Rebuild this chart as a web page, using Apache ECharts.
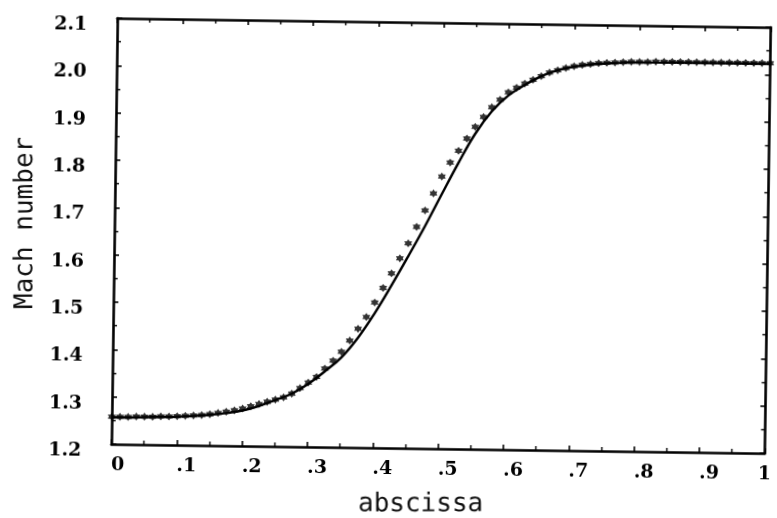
<!DOCTYPE html>
<html>
<head>
<meta charset="utf-8">
<script src="https://cdn.jsdelivr.net/npm/echarts@6/dist/echarts.min.js"></script>
<style>
  html, body { margin: 0; padding: 0; background: #fff; overflow: hidden; }
  /* the plotted sheet sits slightly skewed on the page */
  #chart { width: 777px; height: 518px; transform: rotate(0.8deg); transform-origin: 50% 50%; }
</style>
</head>
<body>
<div id="chart"></div>
<script>
// Tick labels
const xTickLabels = ['0', '.1', '.2', '.3', '.4', '.5', '.6', '.7', '.8', '.9', '1'];
const yTickLabels = ['1.2', '1.3', '1.4', '1.5', '1.6', '1.7', '1.8', '1.9', '2.0', '2.1'];

// Solid curve: Mach number along the abscissa
const lineX = [0, 0.025, 0.05, 0.075, 0.1, 0.125, 0.15, 0.175, 0.2, 0.225,
  0.25, 0.275, 0.3, 0.325, 0.35, 0.375, 0.4, 0.425, 0.45, 0.475,
  0.5, 0.525, 0.55, 0.575, 0.6, 0.625, 0.65, 0.675, 0.7, 0.725,
  0.75, 0.775, 0.8, 0.825, 0.85, 0.875, 0.9, 0.925, 0.95, 0.975, 1];
const lineY = [1.257, 1.257, 1.258, 1.259, 1.260, 1.262, 1.265, 1.269, 1.275, 1.285,
  1.298, 1.312, 1.333, 1.360, 1.390, 1.432, 1.484, 1.543, 1.605, 1.669,
  1.737, 1.804, 1.866, 1.914, 1.948, 1.971, 1.990, 2.003, 2.011, 2.016,
  2.019, 2.021, 2.022, 2.022, 2.023, 2.023, 2.023, 2.023, 2.023, 2.023, 2.023];

// Star markers: second solution sampled on a finer grid
const starX = [0, 0.0125, 0.025, 0.0375, 0.05, 0.0625, 0.075, 0.0875, 0.1, 0.1125,
  0.125, 0.1375, 0.15, 0.1625, 0.175, 0.1875, 0.2, 0.2125, 0.225, 0.2375,
  0.25, 0.2625, 0.275, 0.2875, 0.3, 0.3125, 0.325, 0.3375, 0.35, 0.3625,
  0.375, 0.3875, 0.4, 0.4125, 0.425, 0.4375, 0.45, 0.4625, 0.475, 0.4875,
  0.5, 0.5125, 0.525, 0.5375, 0.55, 0.5625, 0.575, 0.5875, 0.6, 0.6125,
  0.625, 0.6375, 0.65, 0.6625, 0.675, 0.6875, 0.7, 0.7125, 0.725, 0.7375,
  0.75, 0.7625, 0.775, 0.7875, 0.8, 0.8125, 0.825, 0.8375, 0.85, 0.8625,
  0.875, 0.8875, 0.9, 0.9125, 0.925, 0.9375, 0.95, 0.9625, 0.975, 0.9875, 1];
const starY = [1.258, 1.258, 1.258, 1.259, 1.259, 1.259, 1.260, 1.260, 1.261, 1.262,
  1.263, 1.264, 1.266, 1.269, 1.272, 1.275, 1.279, 1.284, 1.289, 1.294,
  1.299, 1.304, 1.312, 1.324, 1.336, 1.348, 1.366, 1.383, 1.402, 1.426,
  1.451, 1.476, 1.507, 1.538, 1.569, 1.601, 1.633, 1.668, 1.703, 1.739,
  1.775, 1.805, 1.830, 1.856, 1.881, 1.902, 1.923, 1.939, 1.955, 1.965,
  1.974, 1.982, 1.990, 1.998, 2.003, 2.008, 2.012, 2.015, 2.017, 2.019,
  2.020, 2.021, 2.022, 2.023, 2.023, 2.023, 2.024, 2.024, 2.024, 2.024,
  2.024, 2.024, 2.024, 2.024, 2.024, 2.024, 2.024, 2.024, 2.024, 2.024, 2.024];

// Six-armed star outline used as the marker glyph
function starPath(points, outer, inner) {
  let d = '';
  for (let i = 0; i < points * 2; i++) {
    const r = i % 2 ? inner : outer;
    const a = Math.PI * i / points - Math.PI / 2;
    d += (i ? 'L' : 'M') + (r * Math.cos(a)).toFixed(3) + ' ' + (r * Math.sin(a)).toFixed(3);
  }
  return 'path://' + d + 'Z';
}

// the sheet tilt (CSS above) is undone for the typed axis titles
const tilt = 0.8 * Math.PI / 180;

const ink = '#000';
const tickFont = { fontFamily: 'DejaVu Serif', fontWeight: 'bold', fontSize: 19, color: ink };
const frameLine = { show: true, onZero: false, lineStyle: { color: ink, width: 2.6 } };
const majorTick = { show: true, inside: true, length: 5, lineStyle: { color: ink, width: 1.6 } };
const minorTick = { show: true, splitNumber: 2, length: 4, lineStyle: { color: ink, width: 1.4 } };

const xFormatter = v => xTickLabels[Math.round(v * 10)];
const yFormatter = v => yTickLabels[Math.round(v * 10) - 12];

const chart = echarts.init(document.getElementById('chart'), null, { renderer: 'canvas' });
chart.setOption({
  animation: false,
  backgroundColor: '#fff',
  grid: { left: 114, top: 22, width: 658, height: 426, containLabel: false },
  xAxis: [
    {
      type: 'value', position: 'bottom', min: 0, max: 1, interval: 0.1,
      axisLine: frameLine, axisTick: majorTick, minorTick: minorTick,
      splitLine: { show: false }, minorSplitLine: { show: false },
      axisLabel: Object.assign({ formatter: xFormatter, align: 'left', alignMaxLabel: 'center', margin: 12 }, tickFont)
    },
    {
      type: 'value', position: 'top', min: 0, max: 1, interval: 0.1,
      axisLine: frameLine, axisTick: majorTick, minorTick: minorTick,
      splitLine: { show: false }, minorSplitLine: { show: false },
      axisLabel: { show: false }
    }
  ],
  yAxis: [
    {
      type: 'value', position: 'left', min: 1.2, max: 2.1, interval: 0.1,
      axisLine: frameLine, axisTick: majorTick, minorTick: minorTick,
      splitLine: { show: false }, minorSplitLine: { show: false },
      axisLabel: Object.assign({ formatter: yFormatter, verticalAlign: 'top', margin: 30, lineHeight: 14 }, tickFont)
    },
    {
      type: 'value', position: 'right', min: 1.2, max: 2.1, interval: 0.1,
      axisLine: frameLine, axisTick: majorTick, minorTick: minorTick,
      splitLine: { show: false }, minorSplitLine: { show: false },
      axisLabel: { show: false }
    }
  ],
  series: [
    {
      type: 'line',
      xAxisIndex: 0, yAxisIndex: 0,
      data: lineX.map((x, i) => [x, lineY[i]]),
      showSymbol: false, symbol: 'none',
      smooth: 0.4,
      lineStyle: { color: ink, width: 2.4 },
      z: 3
    },
    {
      type: 'scatter',
      xAxisIndex: 0, yAxisIndex: 0,
      data: starX.map((x, i) => [x, starY[i]]),
      symbol: starPath(6, 1, 0.62),
      symbolSize: 8,
      itemStyle: { color: ink },
      z: 4
    }
  ],
  graphic: [
    {
      type: 'text', x: 424, y: 504, rotation: tilt,
      style: {
        text: 'abscissa', fontFamily: 'DejaVu Sans Mono', fontSize: 26,
        fill: '#111', align: 'center', verticalAlign: 'middle'
      }
    },
    {
      type: 'text', x: 25, y: 228, rotation: Math.PI / 2 + tilt,
      style: {
        text: 'Mach number', fontFamily: 'DejaVu Sans Mono', fontSize: 26,
        fill: '#111', align: 'center', verticalAlign: 'middle'
      }
    }
  ]
});
</script>
</body>
</html>
